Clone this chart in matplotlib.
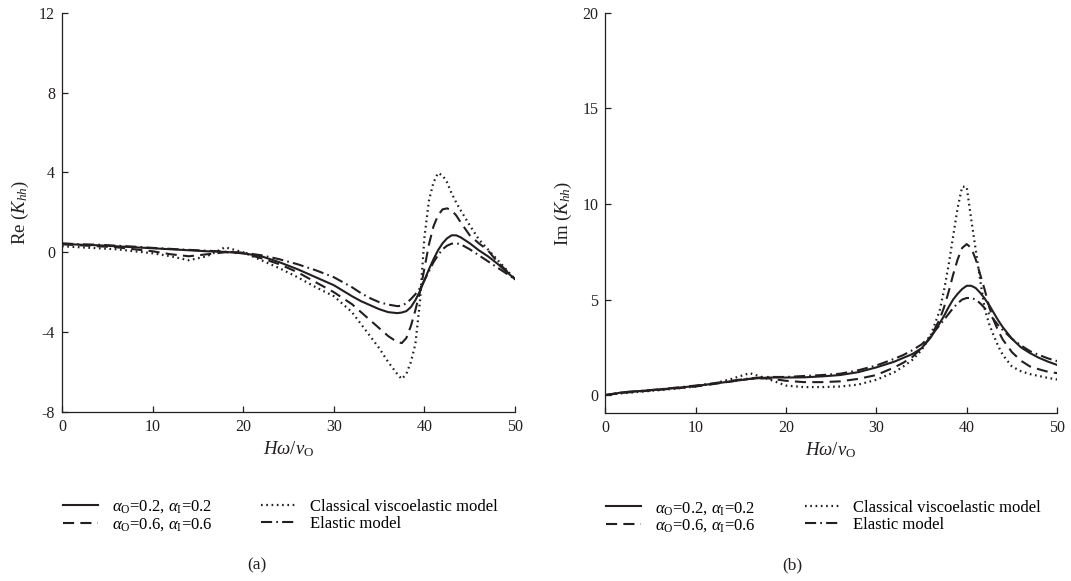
""" Re and Im of K_hh against H*omega/v_O for the four soil models. """

import numpy as np
import matplotlib
matplotlib.use("Agg")
import matplotlib.pyplot as plt
from matplotlib.lines import Line2D

plt.rcParams["font.family"] = ["Liberation Serif", "DejaVu Serif"]
plt.rcParams["mathtext.fontset"] = "custom"
plt.rcParams["mathtext.rm"] = "Liberation Serif"
plt.rcParams["mathtext.it"] = "Liberation Serif:italic"
plt.rcParams["axes.unicode_minus"] = False
plt.rcParams["lines.scale_dashes"] = False

# frequency grid (finer near the resonance)
freq = [0, 2, 4, 6, 8, 10, 12, 14, 16, 18, 20, 22, 24, 26, 28, 30, 32, 33, 34, 35, 36, 37,
        37.5, 38, 38.5, 39, 39.5, 40, 40.5, 41, 41.5, 42, 42.5, 43, 43.5, 44,
        45, 46, 47, 48, 49, 50]

# (a) real part
re_02 = [0.42, 0.38, 0.35, 0.30, 0.25, 0.20, 0.15, 0.10, 0.05, 0.02, -0.05, -0.20, -0.50, -0.85,
         -1.25, -1.65, -2.20, -2.45, -2.65, -2.85, -3.00, -3.05,
         -3.02, -2.95, -2.75, -2.40, -1.95, -1.40, -0.85, -0.35, 0.10, 0.45, 0.70, 0.85, 0.85, 0.75,
         0.45, 0.10, -0.20, -0.55, -0.95, -1.35]
re_06 = [0.40, 0.35, 0.30, 0.25, 0.15, 0.05, -0.10, -0.20, -0.10, 0.00, -0.05, -0.30, -0.60, -1.00,
         -1.50, -2.00, -2.60, -3.00, -3.40, -3.80, -4.20, -4.50,
         -4.55, -4.30, -3.70, -2.90, -2.00, -0.80, 0.40, 1.30, 1.85, 2.15, 2.20, 2.10, 1.85, 1.50,
         0.85, 0.45, 0.10, -0.45, -0.90, -1.35]
re_cl = [0.30, 0.25, 0.20, 0.15, 0.05, -0.05, -0.20, -0.40, -0.20, 0.25, 0.00, -0.40, -0.80, -1.25,
         -1.75, -2.20, -3.00, -3.60, -4.20, -4.80, -5.50, -6.10,
         -6.35, -6.10, -5.50, -4.60, -2.50, 0.75, 2.60, 3.50, 3.97, 3.85, 3.50, 2.95, 2.50, 2.10,
         1.35, 0.65, 0.15, -0.35, -0.85, -1.35]
re_el = [0.45, 0.40, 0.38, 0.33, 0.28, 0.22, 0.17, 0.12, 0.08, 0.03, -0.02, -0.15, -0.35, -0.60,
         -0.90, -1.25, -1.75, -2.05, -2.30, -2.50, -2.62, -2.70,
         -2.68, -2.55, -2.35, -2.10, -1.80, -1.40, -0.95, -0.50, -0.15, 0.15, 0.33, 0.43, 0.45, 0.40,
         0.15, -0.15, -0.45, -0.75, -1.05, -1.35]

# (b) imaginary part
im_02 = [0.00, 0.15, 0.22, 0.30, 0.38, 0.48, 0.60, 0.72, 0.85, 0.92, 0.92, 0.93, 0.98, 1.05,
         1.20, 1.45, 1.75, 1.95, 2.15, 2.45, 3.00, 3.75,
         4.15, 4.60, 5.00, 5.30, 5.55, 5.72, 5.72, 5.60, 5.35, 5.05, 4.70, 4.30, 3.90, 3.55,
         2.95, 2.50, 2.20, 1.95, 1.75, 1.58]
im_06 = [0.00, 0.12, 0.20, 0.28, 0.36, 0.45, 0.58, 0.72, 0.85, 0.88, 0.75, 0.68, 0.68, 0.72,
         0.85, 1.05, 1.45, 1.70, 2.00, 2.45, 3.05, 3.95,
         4.60, 5.40, 6.30, 7.10, 7.70, 7.90, 7.70, 7.10, 6.30, 5.50, 4.60, 3.90, 3.35, 2.90,
         2.25, 1.80, 1.50, 1.35, 1.22, 1.15]
im_cl = [0.00, 0.10, 0.18, 0.26, 0.35, 0.45, 0.60, 0.85, 1.15, 0.85, 0.50, 0.42, 0.42, 0.45,
         0.55, 0.80, 1.20, 1.50, 1.85, 2.35, 3.10, 4.40,
         5.50, 6.80, 8.30, 9.80, 10.90, 10.90, 9.20, 7.60, 6.00, 4.50, 3.70, 3.10, 2.55, 2.10,
         1.50, 1.25, 1.10, 1.00, 0.90, 0.82]
im_el = [0.00, 0.15, 0.22, 0.30, 0.40, 0.50, 0.62, 0.75, 0.88, 0.95, 0.95, 1.00, 1.05, 1.12,
         1.30, 1.55, 1.90, 2.10, 2.35, 2.65, 3.10, 3.65,
         3.95, 4.25, 4.55, 4.80, 5.00, 5.08, 5.08, 5.00, 4.80, 4.55, 4.25, 3.95, 3.65, 3.40,
         2.95, 2.60, 2.30, 2.10, 1.92, 1.78]

labels = [r"$\alpha_{\mathrm{O}}$=0.2, $\alpha_{\mathrm{I}}$=0.2",
          r"$\alpha_{\mathrm{O}}$=0.6, $\alpha_{\mathrm{I}}$=0.6",
          "Classical viscoelastic model",
          "Elastic model"]

ink = "#231f20"
styles = [dict(ls="-", lw=1.5),
          dict(ls=(0, (8, 4.5)), lw=1.5),
          dict(ls=(0, (1.2, 2.6)), lw=1.6),
          dict(ls=(0, (8, 3, 1.2, 3)), lw=1.5)]

fig = plt.figure(figsize=(10.71, 5.81), dpi=100)
ax1 = fig.add_axes([0.0579, 0.291, 0.423, 0.687])
ax2 = fig.add_axes([0.565, 0.289, 0.422, 0.689])

panels = [(ax1, [re_02, re_06, re_cl, re_el], (-8, 12), np.arange(-8, 13, 4), r"Re ($K_{hh}$)"),
          (ax2, [im_02, im_06, im_cl, im_el], (-0.94, 20), np.arange(0, 21, 5), r"Im ($K_{hh}$)")]

for ax, series, ylim, yticks, ylab in panels:
    for ys, st in zip(series, styles):
        ax.plot(freq, ys, color=ink, **st)
    ax.set_xlim(0, 50)
    ax.set_ylim(*ylim)
    ax.set_xticks(np.arange(0, 51, 10))
    ax.set_yticks(yticks)
    for s in ["top", "right"]:
        ax.spines[s].set_visible(False)
    for s in ["left", "bottom"]:
        ax.spines[s].set_color(ink)
        ax.spines[s].set_linewidth(0.9)
    ax.tick_params(direction="in", length=4, width=0.9, colors=ink, labelsize=11.5, pad=5)
    ax.set_xlabel(r"$H\omega/v_{\mathrm{O}}$", fontsize=13.5, color=ink, labelpad=3)
    ax.set_ylabel(ylab, fontsize=13.5, color=ink, labelpad=6)

    handles = [Line2D([], [], color=ink, **st) for st in styles]
    ax.legend(handles, labels, loc="upper left", bbox_to_anchor=(-0.012, -0.2), ncol=2,
              frameon=False, fontsize=12, handlelength=2.1, handletextpad=0.8,
              columnspacing=2.95, labelspacing=0.05, borderaxespad=0)

fig.text(0.240, 0.027, "(a)", ha="center", va="center", fontsize=12.5, color=ink)
fig.text(0.740, 0.027, "(b)", ha="center", va="center", fontsize=12.5, color=ink)

fig.savefig("out.png", dpi=100)
